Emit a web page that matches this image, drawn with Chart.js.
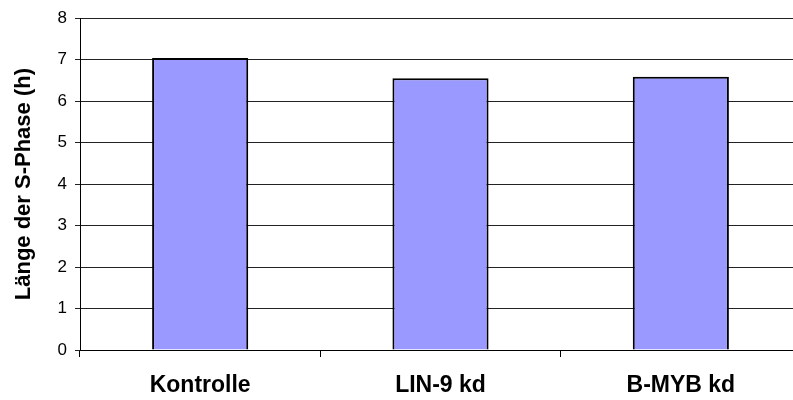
<!DOCTYPE html>
<html>
<head>
<meta charset="utf-8">
<script src="https://cdn.jsdelivr.net/npm/chart.js@4/dist/chart.umd.min.js"></script>
<style>
  html, body { margin: 0; padding: 0; background: #fff; overflow: hidden; }
  #wrap { width: 793px; height: 400px; overflow: hidden; position: relative; }
  #box { width: 801px; height: 400px; position: absolute; left: 0; top: 0; }
</style>
</head>
<body>
<div id="wrap"><div id="box"><canvas id="c"></canvas></div></div>
<script>
// S-phase duration per condition
const categories = ['Kontrolle', 'LIN-9 kd', 'B-MYB kd'];
const sPhaseHours = [7.04, 6.55, 6.59];
const yTicks = [0, 1, 2, 3, 4, 5, 6, 7, 8];

const FONT = '"Liberation Sans", Arial, sans-serif';

new Chart(document.getElementById('c'), {
  type: 'bar',
  data: {
    labels: categories,
    datasets: [{
      data: sPhaseHours,
      backgroundColor: '#9999FF',
      borderColor: '#000',
      borderWidth: 2,
      barPercentage: 0.4,
      categoryPercentage: 1.0
    }]
  },
  options: {
    responsive: true,
    maintainAspectRatio: false,
    animation: false,
    layout: { padding: { top: 17, right: 0, bottom: 0, left: 0 } },
    plugins: { legend: { display: false }, tooltip: { enabled: false } },
    scales: {
      x: {
        offset: true,
        grid: { display: true, drawOnChartArea: false, drawTicks: true, tickLength: 7, color: '#000', offset: true },
        border: { display: true, color: '#000', width: 1 },
        ticks: { color: '#000', font: { family: FONT, size: 23, weight: 'bold' }, padding: 15, maxRotation: 0 },
        afterFit: (s) => { s.height = 50; }
      },
      y: {
        min: 0,
        max: 8,
        afterBuildTicks: (s) => { s.ticks = yTicks.map(v => ({ value: v })); },
        grid: { color: '#222', lineWidth: 1, drawTicks: true, tickLength: 5 },
        border: { display: true, color: '#000', width: 1 },
        ticks: { color: '#000', font: { family: FONT, size: 17 }, padding: 8 },
        title: {
          display: true,
          text: 'Länge der S-Phase (h)',
          color: '#000',
          font: { family: FONT, size: 22, weight: 'bold' },
          padding: { top: 11, bottom: 0 }
        },
        afterFit: (s) => { s.width = 80; }
      }
    }
  }
});
</script>
</body>
</html>
